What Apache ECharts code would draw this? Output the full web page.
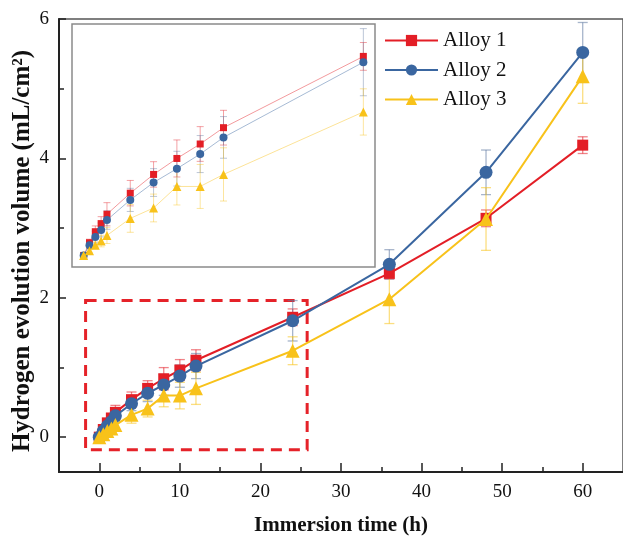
<!DOCTYPE html>
<html>
<head>
<meta charset="utf-8">
<script src="https://cdn.jsdelivr.net/npm/echarts@6/dist/echarts.min.js"></script>
<style>
  html, body { margin: 0; padding: 0; background: #fff; }
  #chart { width: 623px; height: 538px; }
</style>
</head>
<body>
<div id="chart"></div>
<script>
// Immersion times (h)
const times = [0, 0.5, 1, 1.5, 2, 4, 6, 8, 10, 12, 24, 36, 48, 60];

// Hydrogen evolution volume (mL/cm2)
const alloy1 = [0, 0.11, 0.205, 0.275, 0.356, 0.538, 0.70, 0.838, 0.963, 1.104, 1.72, 2.35, 3.14, 4.19];
const alloy2 = [0, 0.087, 0.159, 0.22, 0.306, 0.48, 0.63, 0.75, 0.876, 1.02, 1.67, 2.48, 3.80, 5.52];
const alloy3 = [0, 0.04, 0.087, 0.124, 0.173, 0.32, 0.41, 0.596, 0.596, 0.70, 1.24, 1.98, 3.13, 5.18];

// Standard deviations
const err1 = [0, 0.03, 0.05, 0.06, 0.10, 0.11, 0.11, 0.16, 0.15, 0.15, 0.12, 0.08, 0.12, 0.12];
const err2 = [0, 0.03, 0.05, 0.06, 0.08, 0.10, 0.12, 0.15, 0.16, 0.18, 0.29, 0.21, 0.32, 0.43];
const err3 = [0, 0.02, 0.03, 0.05, 0.07, 0.12, 0.12, 0.16, 0.19, 0.23, 0.20, 0.35, 0.45, 0.39];

// Tick values
const xMajorTicks = [0, 10, 20, 30, 40, 50, 60];
const xMinorTicks = [5, 15, 25, 35, 45, 55];
const yMajorTicks = [0, 2, 4, 6];
const yMinorTicks = [1, 3, 5];

// Early-stage window that is enlarged in the inset (last index shown there)
const insetLastIndex = 10;
const zoomWindow = [[-1.7, 1.96], [25.8, -0.18]];

const names = ['Alloy 1', 'Alloy 2', 'Alloy 3'];
const values = [alloy1, alloy2, alloy3];
const errors = [err1, err2, err3];
const colors = ['#e31e26', '#3a66a0', '#f8c21a'];
const barColors = ['rgba(227,30,38,0.55)', 'rgba(95,120,160,0.55)', 'rgba(248,194,26,0.55)'];
const insetBarColors = ['rgba(227,30,38,0.42)', 'rgba(95,120,160,0.42)', 'rgba(248,194,26,0.42)'];
const symbols = ['rect', 'circle', 'triangle'];
const symbolSizes = [11, 13, 14];
const insetSymbolSizes = [7, 8, 9];

const serif = '"Liberation Serif", "Times New Roman", serif';
const yTitle = 'Hydrogen evolution volume (mL/cm²)';

function pairs(ys, last) {
  const out = [];
  const n = last == null ? times.length : last + 1;
  for (let i = 0; i < n; i++) out.push([times[i], ys[i]]);
  return out;
}
function triples(ys, es, last) {
  const out = [];
  const n = last == null ? times.length : last + 1;
  for (let i = 0; i < n; i++) out.push([times[i], ys[i], es[i]]);
  return out;
}

function errorBars(color, capHalf, width) {
  return function (params, api) {
    const x = api.value(0), y = api.value(1), e = api.value(2);
    if (!e) return null;
    const hi = api.coord([x, y + e]);
    const lo = api.coord([x, y - e]);
    const style = { stroke: color, lineWidth: width, fill: null };
    return {
      type: 'group',
      children: [
        { type: 'line', shape: { x1: hi[0], y1: hi[1], x2: lo[0], y2: lo[1] }, style },
        { type: 'line', shape: { x1: hi[0] - capHalf, y1: hi[1], x2: hi[0] + capHalf, y2: hi[1] }, style },
        { type: 'line', shape: { x1: lo[0] - capHalf, y1: lo[1], x2: lo[0] + capHalf, y2: lo[1] }, style }
      ]
    };
  };
}

const series = [];

// Main plot: error bars, then lines with markers
for (let k = 0; k < 3; k++) {
  series.push({
    type: 'custom',
    name: names[k] + ' SD',
    xAxisIndex: 0, yAxisIndex: 0,
    renderItem: errorBars(barColors[k], 5, 1.3),
    encode: { x: 0, y: 1 },
    data: triples(values[k], errors[k]),
    z: 2, silent: true
  });
}
for (let k = 0; k < 3; k++) {
  series.push({
    type: 'line',
    name: names[k],
    xAxisIndex: 0, yAxisIndex: 0,
    data: pairs(values[k]),
    symbol: symbols[k],
    symbolSize: symbolSizes[k],
    showAllSymbol: true,
    lineStyle: { color: colors[k], width: 2 },
    itemStyle: { color: colors[k] },
    z: 3 + k
  });
}

// Dashed frame marking the enlarged window
series.push({
  type: 'line',
  name: 'window',
  xAxisIndex: 0, yAxisIndex: 0,
  data: [],
  silent: true,
  markArea: {
    silent: true,
    itemStyle: {
      color: 'rgba(0,0,0,0)',
      borderColor: '#e52229',
      borderWidth: 3,
      borderType: [11, 7]
    },
    data: [[{ coord: zoomWindow[0] }, { coord: zoomWindow[1] }]]
  },
  z: 6
});

// Inset plot
for (let k = 0; k < 3; k++) {
  series.push({
    type: 'custom',
    name: names[k] + ' SD inset',
    xAxisIndex: 2, yAxisIndex: 2,
    renderItem: errorBars(insetBarColors[k], 3.5, 1),
    encode: { x: 0, y: 1 },
    data: triples(values[k], errors[k], insetLastIndex),
    z: 12, silent: true
  });
}
for (let k = 0; k < 3; k++) {
  series.push({
    type: 'line',
    name: names[k] + ' inset',
    xAxisIndex: 2, yAxisIndex: 2,
    data: pairs(values[k], insetLastIndex),
    symbol: symbols[k],
    symbolSize: insetSymbolSizes[k],
    showAllSymbol: true,
    lineStyle: { color: colors[k], width: 1, opacity: 0.45 },
    itemStyle: { color: colors[k] },
    z: 13 + k
  });
}

const chart = echarts.init(document.getElementById('chart'), null, { renderer: 'canvas' });

chart.setOption({
  animation: false,
  backgroundColor: '#fff',
  textStyle: { fontFamily: serif },
  grid: [
    { left: 59, right: 0, top: 19, bottom: 66, outerBoundsMode: 'none', containLabel: false, show: true, borderColor: '#555', borderWidth: 1.5, backgroundColor: '#fff', z: 0 },
    { left: 72, top: 24, width: 303, height: 243, outerBoundsMode: 'none', containLabel: false, show: true, borderColor: '#8a8a8a', borderWidth: 1.5, backgroundColor: '#fff', z: 10 }
  ],
  // Vertical axis title
  graphic: [{
    type: 'text',
    x: 23,
    y: 251,
    rotation: Math.PI / 2,
    style: {
      text: yTitle,
      fill: '#111',
      font: 'bold 25px ' + serif,
      align: 'center',
      verticalAlign: 'middle'
    },
    z: 30
  }],
  legend: {
    data: names,
    left: 379,
    top: 25,
    orient: 'vertical',
    itemWidth: 53,
    itemHeight: 14,
    itemGap: 8.5,
    textStyle: { fontFamily: serif, fontSize: 21, color: '#111', lineHeight: 20 },
    z: 20
  },
  xAxis: [
    {
      type: 'value', gridIndex: 0, position: 'bottom', min: -5, max: 65,
      name: 'Immersion time (h)', nameLocation: 'middle', nameGap: 43,
      nameTextStyle: { fontFamily: serif, fontSize: 21, fontWeight: 'bold', color: '#111' },
      axisLine: { onZero: false, lineStyle: { color: '#222', width: 2 } },
      axisTick: { inside: true, length: 9, lineStyle: { color: '#222', width: 1.5 }, customValues: xMajorTicks },
      axisLabel: { fontFamily: serif, fontSize: 19, color: '#111', margin: 11, customValues: xMajorTicks },
      splitLine: { show: false }
    },
    {
      type: 'value', gridIndex: 0, position: 'bottom', min: -5, max: 65,
      axisLine: { show: false, onZero: false },
      axisTick: { inside: true, length: 5, lineStyle: { color: '#222', width: 1.5 }, customValues: xMinorTicks },
      axisLabel: { show: false },
      splitLine: { show: false }
    },
    {
      type: 'value', gridIndex: 1, min: -1, max: 25,
      axisLine: { show: false, onZero: false }, axisTick: { show: false }, axisLabel: { show: false }, splitLine: { show: false }
    }
  ],
  yAxis: [
    {
      type: 'value', gridIndex: 0, position: 'left', min: -0.5, max: 6,
      axisLine: { onZero: false, lineStyle: { color: '#222', width: 2 } },
      axisTick: { inside: true, length: 7, lineStyle: { color: '#222', width: 1.5 }, customValues: yMajorTicks },
      axisLabel: { fontFamily: serif, fontSize: 19, color: '#111', margin: 10, customValues: yMajorTicks },
      splitLine: { show: false }
    },
    {
      type: 'value', gridIndex: 0, position: 'left', min: -0.5, max: 6,
      axisLine: { show: false, onZero: false },
      axisTick: { inside: true, length: 5, lineStyle: { color: '#222', width: 1.5 }, customValues: yMinorTicks },
      axisLabel: { show: false },
      splitLine: { show: false }
    },
    {
      type: 'value', gridIndex: 1, min: -0.1, max: 2,
      axisLine: { show: false, onZero: false }, axisTick: { show: false }, axisLabel: { show: false }, splitLine: { show: false }
    }
  ],
  series: series
});
</script>
</body>
</html>
